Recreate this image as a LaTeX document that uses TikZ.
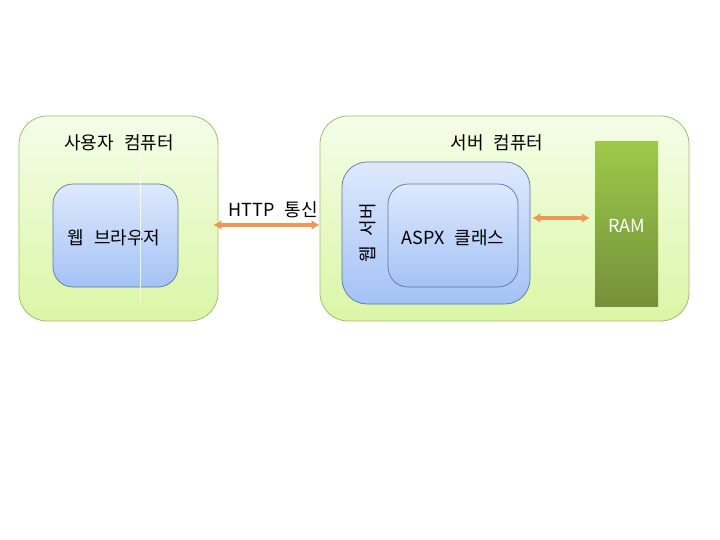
\documentclass[tikz,border=0pt]{standalone}
\usepackage{fontspec}
\setmainfont[WordSpace=2.5]{Noto Sans CJK KR}
\usetikzlibrary{arrows.meta}
\definecolor{gtop}{RGB}{245,253,232}
\definecolor{gbot}{RGB}{218,246,166}
\definecolor{gborder}{RGB}{160,190,110}
\definecolor{btop}{RGB}{222,233,252}
\definecolor{bbot}{RGB}{164,194,246}
\definecolor{bborder}{RGB}{90,120,160}
\definecolor{rtop}{RGB}{157,201,74}
\definecolor{rbot}{RGB}{116,144,58}
\definecolor{arrcol}{RGB}{238,152,82}
\tikzset{
  outerbox/.style={draw=gborder, line width=0.8pt, rounded corners=28pt, top color=gtop, bottom color=gbot},
  innerbox/.style={draw=bborder, line width=0.7pt, rounded corners=20pt, top color=btop, bottom color=bbot},
  rambox/.style={draw=none, top color=rtop, bottom color=rbot, text=white},
  lbl/.style={font=\fontsize{18}{20}\selectfont, inner sep=0pt},
  twoway/.style={draw=arrcol, line width=3.8pt, {Latex[length=8pt,width=10pt]}-{Latex[length=8pt,width=10pt]}}
}
\begin{document}
\begin{tikzpicture}[x=1pt,y=-1pt]
\useasboundingbox (0,0) rectangle (720,540);
% left computer
\node[outerbox, minimum width=199pt, minimum height=205pt] (userpc) at (118.5,218.5) {};
\node[lbl] (usertitle) at (119,143) {사용자 컴퓨터};
\node[innerbox, minimum width=125pt, minimum height=103pt] (browser) at (115.5,235.5) {};
\node[lbl] (browsertxt) at (114,238) {웹 브라우저};
\draw[white, line width=0.8pt, opacity=0.8] (140,150) coordinate (wl1) -- (140,302) coordinate (wl2);
% server computer
\node[outerbox, minimum width=369pt, minimum height=205pt] (server) at (504.5,218.5) {};
\node[lbl] (servertitle) at (497,143) {서버 컴퓨터};
\node[innerbox, rounded corners=25pt, minimum width=188pt, minimum height=142pt] (webserver) at (436,233) {};
\node[lbl, rotate=90] (webservertxt) at (368,233) {웹 서버};
\node[innerbox, minimum width=130pt, minimum height=103pt] (aspx) at (453,235.5) {};
\node[lbl] (aspxtxt) at (453,238) {ASPX 클래스};
\node[rambox, minimum width=63pt, minimum height=164pt] (ram) at (626.5,224) {};
\node[lbl, text=white] (ramtxt) at (627,226) {RAM};
% arrows
\draw[twoway] ([xshift=-5pt,yshift=-6.5pt]userpc.east) -- ([yshift=-6.5pt]server.west);
\node[lbl] (httptxt) at (273,210) {HTTP 통신};
\draw[twoway] ([xshift=2pt,yshift=15pt]webserver.east) -- ([xshift=-5pt,yshift=6pt]ram.west);
\end{tikzpicture}
\end{document}
